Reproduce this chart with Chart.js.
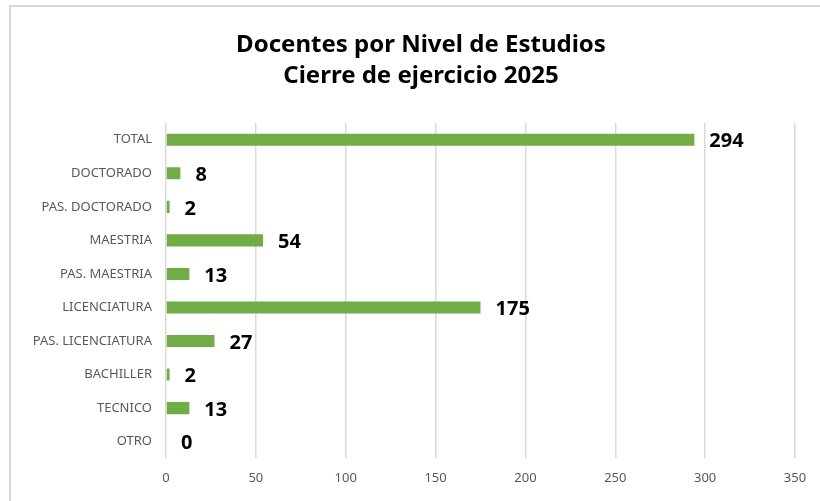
<!DOCTYPE html>
<html>
<head>
<meta charset="utf-8">
<script src="https://cdn.jsdelivr.net/npm/chart.js@4.4.1/dist/chart.umd.min.js"></script>
<style>
  html, body { margin: 0; padding: 0; background: #fff; }
  #wrap { position: relative; width: 820px; height: 501px; overflow: hidden; }
  #frame { position: absolute; left: 9px; top: 5px; width: 830px; height: 520px; border: 2px solid #d9d9d9; box-sizing: border-box; }
  #cv { position: absolute; left: 0; top: 0; }
</style>
</head>
<body>
<div id="wrap">
  <div id="frame"></div>
  <canvas id="cv" width="820" height="501"></canvas>
</div>
<script>
	// datos
	var niveles = ['TOTAL', 'DOCTORADO', 'PAS. DOCTORADO', 'MAESTRIA', 'PAS. MAESTRIA', 'LICENCIATURA', 'PAS. LICENCIATURA', 'BACHILLER', 'TECNICO', 'OTRO'];
	var docentes = [294, 8, 2, 54, 13, 175, 27, 2, 13, 0];
	var titulo = ['Docentes por Nivel de Estudios', 'Cierre de ejercicio 2025'];
	var ejeMax = 350, ejePaso = 50;

	var fuente = "'Noto Sans', 'Open Sans', sans-serif";

	// titulo centrado sobre el marco (no sobre el canvas con padding)
	var encabezado = {
		id: 'encabezado',
		afterDraw: function(chart){
			let ctx = chart.ctx;
			ctx.save();
			ctx.font = 'bold 24px ' + fuente;
			ctx.fillStyle = '#000';
			ctx.textAlign = 'center';
			ctx.textBaseline = 'middle';
			titulo.forEach(function(t, i){
				ctx.fillText(t, 421, 45 + i * 31);
			});
			ctx.restore();
		}
	};

	// etiquetas de valor a la derecha de cada barra
	var etiquetas = {
		id: 'etiquetas',
		afterDatasetsDraw: function(chart){
			let ctx = chart.ctx;
			let meta = chart.getDatasetMeta(0);
			ctx.save();
			ctx.font = 'bold 20px ' + fuente;
			ctx.fillStyle = '#000';
			ctx.textAlign = 'left';
			ctx.textBaseline = 'middle';
			meta.data.forEach(function(bar, i){
				ctx.fillText(String(docentes[i]), bar.x + 15, bar.y + 2);
			});
			ctx.restore();
		}
	};

	var data = {
		labels: niveles,
		datasets: [{
			data: docentes,
			backgroundColor: '#70ad47',
			borderWidth: 0,
			categoryPercentage: 1,
			barPercentage: 0.36
		}]
	};

	var options = {
		indexAxis: 'y',
		responsive: false,
		animation: false,
		layout: { padding: { left: 0, right: 25, top: 123, bottom: 3 } },
		plugins: {
			legend: { display: false },
			tooltip: { enabled: false },
			title: { display: false }
		},
		scales: {
			x: {
				min: 0,
				max: ejeMax,
				ticks: { stepSize: ejePaso, color: '#595959', padding: 12, font: { family: fuente, size: 13 } },
				grid: { color: '#d9d9d9', lineWidth: 1.5, drawTicks: false },
				border: { display: false }
			},
			y: {
				ticks: { color: '#595959', padding: 14, font: { family: fuente, size: 13 } },
				grid: { display: false, drawTicks: false },
				border: { display: false },
				afterFit: function(scale){ scale.width = 166; }
			}
		}
	};

	new Chart(document.getElementById('cv'), {
		type: 'bar',
		data: data,
		options: options,
		plugins: [etiquetas, encabezado]
	});
</script>
</body>
</html>
